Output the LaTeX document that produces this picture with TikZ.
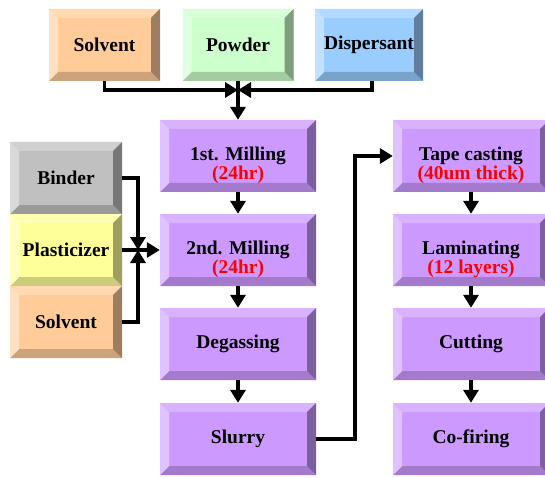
\documentclass[tikz,border=0pt]{standalone}
\usepackage{fontspec}
\setmainfont{Liberation Serif}
\usetikzlibrary{arrows.meta}
\definecolor{stagefill}{HTML}{CC99FF}
\definecolor{solventfill}{HTML}{FFCC99}
\definecolor{powderfill}{HTML}{CCFFCC}
\definecolor{dispfill}{HTML}{99CCFF}
\definecolor{binderfill}{HTML}{C0C0C0}
\definecolor{plastfill}{HTML}{FFFF99}
\begin{document}
\begin{tikzpicture}[x = 1pt, y = -1pt,
	box/.style = {fill = #1, minimum height = 72pt, inner sep = 0pt,
		font = \bfseries\fontsize{19.5}{20}\selectfont,
		path picture = {
			% bevelled edges: top, bottom, left, right
			\fill [#1!75!white] (path picture bounding box.north west) -- (path picture bounding box.north east)
				-- ([shift = {(-9pt,-9pt)}]path picture bounding box.north east) -- ([shift = {(9pt,-9pt)}]path picture bounding box.north west) -- cycle;
			\fill [#1!80!black] (path picture bounding box.south west) -- (path picture bounding box.south east)
				-- ([shift = {(-9pt,9pt)}]path picture bounding box.south east) -- ([shift = {(9pt,9pt)}]path picture bounding box.south west) -- cycle;
			\fill [#1!60!white] (path picture bounding box.north west) -- ([shift = {(9pt,-9pt)}]path picture bounding box.north west)
				-- ([shift = {(9pt,9pt)}]path picture bounding box.south west) -- (path picture bounding box.south west) -- cycle;
			\fill [#1!62!black] (path picture bounding box.north east) -- ([shift = {(-9pt,-9pt)}]path picture bounding box.north east)
				-- ([shift = {(-9pt,9pt)}]path picture bounding box.south east) -- (path picture bounding box.south east) -- cycle;
		}},
	stage/.style = {box = stagefill, minimum width = 156pt},
	ingredient/.style = {box = #1, minimum width = 111pt},
	note/.style = {text = red, inner sep = 0pt, anchor = base, font = \bfseries\fontsize{19.5}{20}\selectfont},
	flow/.style = {line width = 3.5pt, -{Triangle[length = 13pt, width = 15pt]}}]
	\useasboundingbox (0,0) rectangle (545,478);
	\clip (0,0) rectangle (545,478);

	% top row
	\node [ingredient = solventfill] (solvent1) at (104.5,45) {Solvent};
	\node [ingredient = powderfill] (powder) at (238,45) {Powder};
	\node [ingredient = dispfill, minimum width = 108pt] (dispersant) at (369,45) {Dispersant};

	% left column
	\node [ingredient = binderfill, minimum width = 112pt] (binder) at (66,178) {Binder};
	\node [ingredient = plastfill, minimum width = 112pt] (plasticizer) at (66,250) {Plasticizer};
	\node [ingredient = solventfill, minimum width = 112pt] (solvent2) at (66,322) {Solvent};

	% middle column
	\node [stage] (mill1) at (238,156) {1st. Milling};
	\node [note] (mill1note) at ([yshift = -19pt]mill1.base) {(24hr)};
	\node [stage] (mill2) at (238,250) {2nd. Milling};
	\node [note] (mill2note) at ([yshift = -19pt]mill2.base) {(24hr)};
	\node [stage] (degas) at (238,344) {Degassing};
	\node [stage] (slurry) at (238,439) {Slurry};

	% right column
	\node [stage] (tape) at (471,156) {Tape casting};
	\node [note] (tapenote) at ([yshift = -19pt]tape.base) {(40um thick)};
	\node [stage] (laminate) at (471,250) {Laminating};
	\node [note] (laminatenote) at ([yshift = -19pt]laminate.base) {(12 layers)};
	\node [stage] (cut) at (471,344) {Cutting};
	\node [stage] (cofire) at (471,439) {Co-firing};

	\coordinate (topjoin) at (238,90);
	\coordinate (leftjoin) at (138,250);
	\coordinate (bend) at (355,439);

	% connectors
	\draw [flow] (solvent1.south) |- (topjoin);
	\draw [flow] ([xshift = 3pt]dispersant.south) |- (topjoin);
	\draw [flow] (powder.south) -- (mill1.north);
	\draw [flow] (binder.east) -| (leftjoin);
	\draw [flow] (solvent2.east) -| (leftjoin);
	\draw [flow] (plasticizer.east) -- (mill2.west);
	\draw [flow] (mill1.south) -- (mill2.north);
	\draw [flow] (mill2.south) -- (degas.north);
	\draw [flow] (degas.south) -- (slurry.north);
	\draw [flow] (slurry.east) -- (bend) |- (tape.west);
	\draw [flow] (tape.south) -- (laminate.north);
	\draw [flow] (laminate.south) -- (cut.north);
	\draw [flow] (cut.south) -- (cofire.north);
\end{tikzpicture}
\end{document}
